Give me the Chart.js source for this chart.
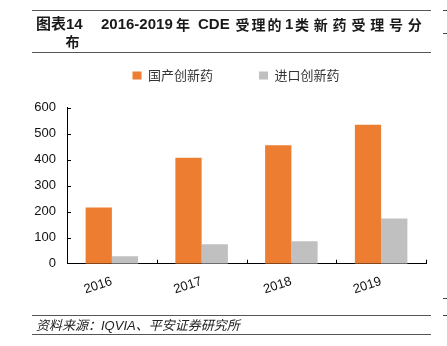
<!DOCTYPE html>
<html>
<head>
<meta charset="utf-8">
<script src="https://cdn.jsdelivr.net/npm/chart.js@4.4.1/dist/chart.umd.min.js"></script>
<style>
  html, body { margin: 0; padding: 0; background: #fff; }
  #page { position: relative; width: 447px; height: 346px; overflow: hidden; }
  #chart { position: absolute; left: 0; top: 0; }
  .rule { position: absolute; left: 32px; width: 399px; height: 1.4px; background: #555; }
  .dash { position: absolute; left: 443px; width: 4px; height: 1px; background: #444; }
  .t { position: absolute; white-space: nowrap; color: #1a1a1a;
       font-family: "Liberation Sans", "Noto Sans CJK SC", sans-serif; }
  .title { font-size: 15px; font-weight: bold; line-height: 16px; top: 16px; }
  .title.cj { font-size: 14px; top: 16.5px; }
  .note { font-size: 13px; line-height: 15px; font-style: italic; color: #222; }
</style>
</head>
<body>
<div id="page">
  <canvas id="chart" width="447" height="346"></canvas>

  <div class="rule" style="top:10px"></div>
  <div class="t title" style="left:36px">图表14</div>
  <div class="t title" style="left:101px">2016-2019</div>
  <div class="t title cj" style="left:176px">年</div>
  <div class="t title" style="left:198px">CDE</div>
  <div class="t title cj" style="left:235.5px; letter-spacing:2px">受理的</div>
  <div class="t title" style="left:285px">1</div>
  <div class="t title cj" style="left:295px; letter-spacing:4.8px">类新药受理号分</div>
  <div class="t title cj" style="left:65.5px; top:33.5px">布</div>
  <div class="rule" style="top:52px"></div>

  <div class="rule" style="top:315px"></div>
  <div class="t note" style="left:36px; top:318px">资料来源：IQVIA、平安证券研究所</div>
  <div class="rule" style="top:333.5px"></div>

  <div class="dash" style="top:10px"></div>
  <div class="dash" style="top:33px"></div>
  <div class="dash" style="top:298px"></div>
  <div class="dash" style="top:315px"></div>
</div>

<script>
// CDE 1类新药受理号 by year
const years = ['2016', '2017', '2018', '2019'];
const domesticNew = [216, 407, 455, 534];   // 国产创新药
const importedNew = [29, 75, 86, 174];      // 进口创新药
const yTicks = [0, 100, 200, 300, 400, 500, 600];

const ORANGE = '#ED7D31';
const GREY = '#C0C0C0';

// Short tick marks pointing into the plot area, on both axes
const innerTicks = {
  id: 'innerTicks',
  afterDraw(chart) {
    const { ctx, chartArea, scales: { x, y } } = chart;
    ctx.save();
    ctx.strokeStyle = '#000';
    ctx.lineWidth = 1;
    ctx.beginPath();
    yTicks.forEach(v => {
      if (v === 0) return;
      const py = Math.round(y.getPixelForValue(v)) + 0.5;
      ctx.moveTo(chartArea.left, py);
      ctx.lineTo(chartArea.left + 4, py);
    });
    for (let i = 1; i <= years.length; i++) {
      const px = Math.round(x.getPixelForValue(i - 0.5)) + 0.5;
      ctx.moveTo(px, chartArea.bottom);
      ctx.lineTo(px, chartArea.bottom - 4);
    }
    ctx.stroke();
    ctx.restore();
  }
};

// Legend: extra room underneath and a small nudge to the right
const legendPlace = {
  id: 'legendPlace',
  beforeInit(chart) {
    const origFit = chart.legend.fit;
    chart.legend.fit = function () {
      origFit.call(this);
      this.height = 84.5;
    };
  },
  afterLayout(chart) {
    chart.legend.left += 6;
    chart.legend.right += 6;
  }
};

new Chart(document.getElementById('chart'), {
  type: 'bar',
  data: {
    labels: years,
    datasets: [
      { label: '国产创新药', data: domesticNew, backgroundColor: ORANGE, borderWidth: 0,
        categoryPercentage: 0.585, barPercentage: 1.0 },
      { label: '进口创新药', data: importedNew, backgroundColor: GREY, borderWidth: 0,
        categoryPercentage: 0.585, barPercentage: 1.0 }
    ]
  },
  options: {
    responsive: false,
    animation: false,
    devicePixelRatio: 1,
    layout: { padding: { left: 34, right: 21, top: 23, bottom: 38.5 } },
    plugins: {
      legend: {
        display: true,
        position: 'top',
        labels: {
          boxWidth: 9,
          boxHeight: 8,
          padding: 46,
          color: '#333',
          font: { family: '"Noto Sans CJK SC", sans-serif', size: 13 }
        }
      },
      tooltip: { enabled: false }
    },
    scales: {
      x: {
        offset: true,
        grid: { display: false, drawTicks: false },
        border: { display: true, color: '#000', width: 1 },
        ticks: {
          color: '#111',
          minRotation: 18,
          maxRotation: 18,
          padding: 10,
          font: { family: '"Liberation Sans", Arial, sans-serif', size: 13 }
        }
      },
      y: {
        min: 0,
        max: 600,
        afterBuildTicks(scale) { scale.ticks = yTicks.map(v => ({ value: v })); },
        afterFit(scale) { scale.width = 33; },
        grid: { display: false, drawTicks: false },
        border: { display: true, color: '#000', width: 1 },
        ticks: {
          color: '#111',
          padding: 11,
          font: { family: '"Liberation Sans", Arial, sans-serif', size: 13 }
        }
      }
    }
  },
  plugins: [innerTicks, legendPlace]
});
</script>
</body>
</html>
